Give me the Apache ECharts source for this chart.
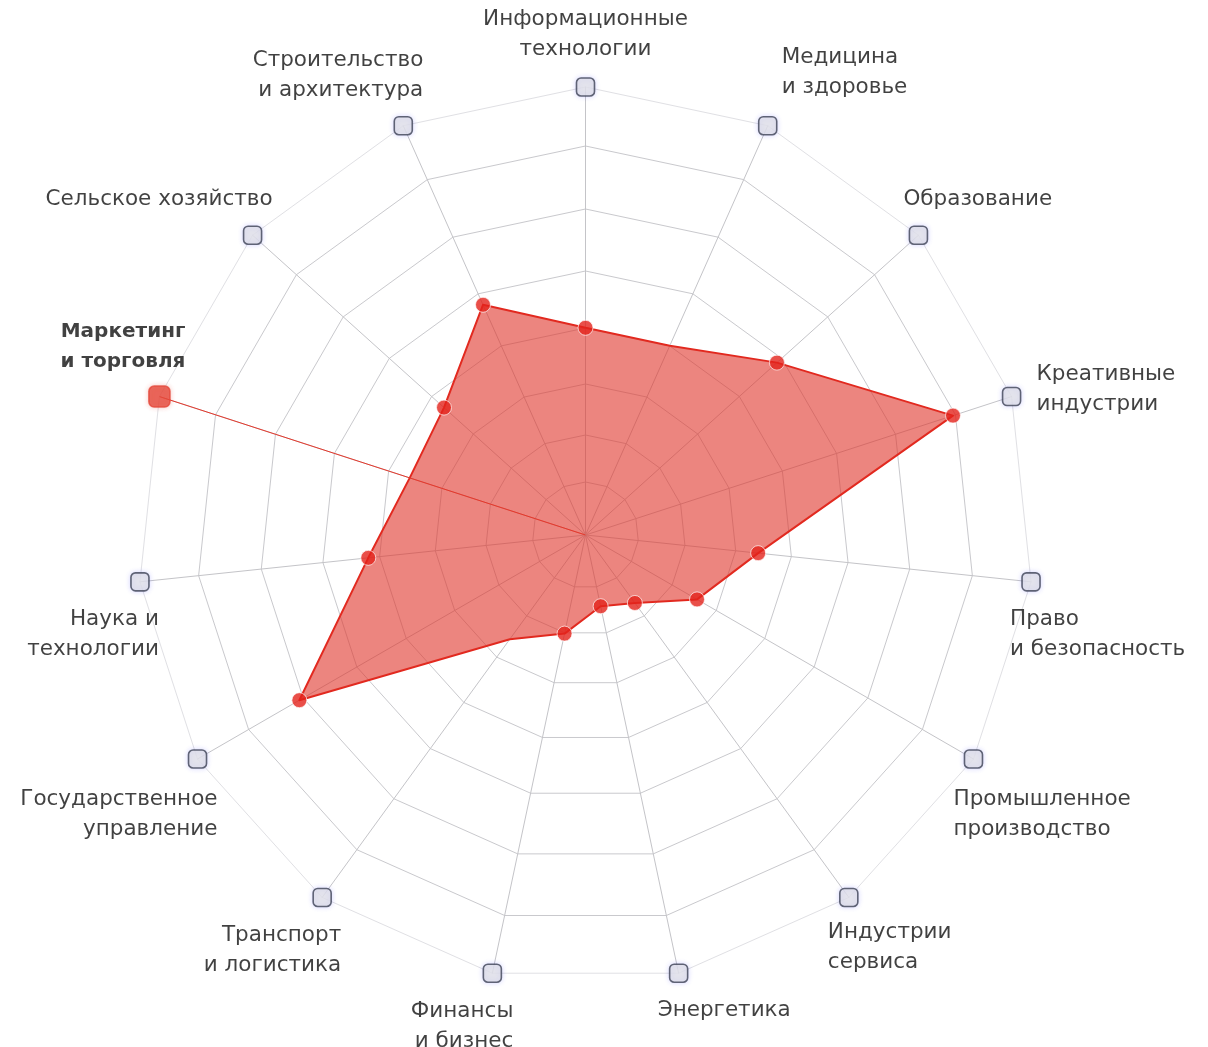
<!DOCTYPE html>
<html>
<head>
<meta charset="utf-8">
<title>Радар направлений</title>
<script src="https://cdn.jsdelivr.net/npm/echarts@6/dist/echarts.min.js"></script>
<style>
html, body { margin: 0; padding: 0; background: #fff; }
#chart { width: 1208px; height: 1047px; }
</style>
</head>
<body>
<div id="chart"></div>
<script>
// направления по часовой стрелке, начиная сверху
const indicators = [
  'Информационные\nтехнологии',
  'Медицина\nи здоровье',
  'Образование',
  'Креативные\nиндустрии',
  'Право\nи безопасность',
  'Промышленное\nпроизводство',
  'Индустрии\nсервиса',
  'Энергетика',
  'Финансы\nи бизнес',
  'Транспорт\nи логистика',
  'Государственное\nуправление',
  'Наука и\nтехнологии',
  'Маркетинг\nи торговля',
  'Сельское хозяйство',
  'Строительство\nи архитектура'
]
const values = [3.7, 3.7, 4.6, 6.9, 3.1, 2.3, 1.5, 1.3, 1.8, 2.3, 5.9, 3.9, 3.3, 3.4, 4.5]
// у этих направлений точки нет
const noDot = ['Медицина\nи здоровье', 'Транспорт\nи логистика', 'Маркетинг\nи торговля']
const selected = 'Маркетинг\nи торговля'
const maxValue = 8

// сдвиг подписи от квадрата: dx, dy, выравнивание
const labelPos = [
  [0, -53, 'center'],
  [14, -53, 'left'],
  [-15, -36, 'left'],
  [25, -7, 'left'],
  [-21, 53, 'left'],
  [-20, 55, 'left'],
  [-21, 50, 'left'],
  [-21, 37, 'left'],
  [21, 53, 'right'],
  [19, 53, 'right'],
  [20, 55, 'right'],
  [19, 53, 'right'],
  [26, -50, 'right'],
  [20, -36, 'right'],
  [20, -50, 'right']
]

const center = [585.5, 535]
// кольца сетки в макете расставлены неравномерно
const ringRadius = [53, 100, 151, 207, 264, 326, 389, 448]
const outer = ringRadius.length - 1
const fontFamily = 'DejaVu Sans'

// радар рисует против часовой стрелки, поэтому порядок разворачиваем
const n = indicators.length
const radarIdx = indicators.map((_, i) => (n - i) % n)

let myChart = echarts.init(document.getElementById('chart'))

let radars = ringRadius.map((r, k) => ({
  center: center,
  radius: r,
  startAngle: 90,
  shape: 'polygon',
  splitNumber: 1,
  indicator: radarIdx.map(i => ({ name: indicators[i], max: maxValue })),
  axisName: { show: false },
  splitArea: { show: false },
  splitLine: { lineStyle: { color: k === outer ? '#e0e0e4' : '#c9c9cd', width: 1 } },
  axisLine: { show: k === outer, lineStyle: { color: '#c4c4c8', width: 1 } },
  axisTick: { show: false },
  axisLabel: { show: false }
}))

let option = {
  animation: false,
  backgroundColor: '#fff',
  radar: radars,
  polar: {
    center: center,
    radius: ringRadius[outer]
  },
  angleAxis: {
    type: 'category',
    data: indicators,
    boundaryGap: false,
    startAngle: 90,
    clockwise: true,
    axisLine: { show: false },
    axisTick: { show: false },
    axisLabel: { show: false },
    splitLine: { show: false },
    splitArea: { show: false }
  },
  radiusAxis: {
    min: 0,
    max: maxValue,
    axisLine: { show: false },
    axisTick: { show: false },
    axisLabel: { show: false },
    splitLine: { show: false },
    splitArea: { show: false }
  },
  series: [
    {
      type: 'radar',
      radarIndex: outer,
      z: 2,
      symbol: 'none',
      lineStyle: { color: '#e3261c', width: 2 },
      areaStyle: { color: '#e0342a', opacity: 0.6 },
      data: [{ value: radarIdx.map(i => values[i]) }]
    },
    {
      // выделенное направление
      type: 'line',
      coordinateSystem: 'polar',
      z: 3,
      symbol: 'none',
      silent: true,
      lineStyle: { color: '#e5392c', width: 1 },
      data: [[0, selected], [maxValue, selected]]
    },
    {
      type: 'scatter',
      coordinateSystem: 'polar',
      z: 4,
      symbol: 'circle',
      symbolSize: 15,
      itemStyle: { color: '#e3231b', borderColor: 'rgba(255,255,255,0.85)', borderWidth: 1 },
      data: indicators
        .map((name, i) => ({ name: name, value: [values[i], name] }))
        .filter(d => noDot.indexOf(d.name) < 0)
    },
    {
      type: 'scatter',
      coordinateSystem: 'polar',
      z: 5,
      symbol: 'roundRect',
      symbolSize: 18,
      itemStyle: {
        color: '#e5e5e7',
        borderColor: '#3d4255',
        borderWidth: 1.6,
        shadowBlur: 5,
        shadowColor: 'rgba(110,110,255,0.3)'
      },
      label: {
        show: true,
        position: ['50%', '50%'],
        verticalAlign: 'middle',
        formatter: '{b}',
        fontFamily: fontFamily,
        fontSize: 21.5,
        lineHeight: 30,
        color: '#111'
      },
      data: indicators.map((name, i) => {
        let p = labelPos[i]
        let isSel = name === selected
        return {
          name: name,
          value: [maxValue, name],
          symbolSize: isSel ? 21 : 18,
          itemStyle: isSel ? { color: '#e5493b', borderColor: '#e5493b', shadowColor: 'rgba(229,73,59,0.3)' } : {},
          label: {
            offset: [p[0], p[1]],
            align: p[2],
            fontWeight: isSel ? 'bold' : 'normal',
            fontSize: isSel ? 20 : 21.5,
            color: '#111'
          }
        }
      })
    }
  ]
}

option && myChart.setOption(option)
</script>
</body>
</html>
